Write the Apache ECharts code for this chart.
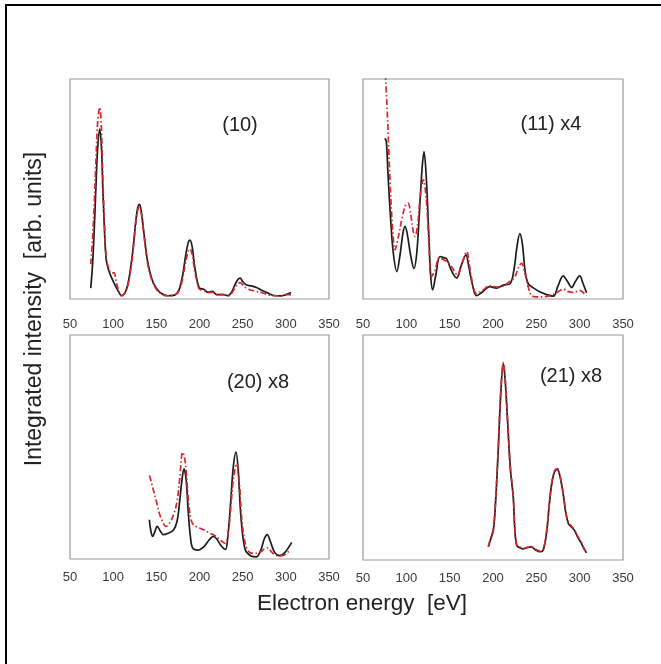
<!DOCTYPE html>
<html>
<head>
<meta charset="utf-8">
<script src="https://cdn.jsdelivr.net/npm/echarts@6/dist/echarts.min.js"></script>
<style>
html,body{margin:0;padding:0;background:#fff;}
#chart{width:661px;height:664px;}
</style>
</head>
<body>
<div id="chart"></div>
<script>
// ---- Data (energy in eV, intensity in arbitrary units, panel-normalised) ----
var xTicks = [50, 100, 150, 200, 250, 300, 350];
var panelLabels = ['(10)', '(11) x4', '(20) x8', '(21) x8'];

var p10BlackX = [74,76,78,80,82,84.5,86.5,88,90,92,95,99,104,110,115,119,123,126,128.5,130.5,133,136,140,145,150,156,163,171,176,180,184,187,189,191.5,194,197,200,205,210,215,220,228,233,237,241,244.5,247,250,254,260,266,272,279,286,294,300,306];
var p10BlackY = [4,14,30,50,68,77,68,50,30,17,12,8,4,0.5,3,10,22,34,41,42.5,38,28,16,8,4,1.5,0.5,0.8,3,9,19,25,26,23,15,8,4,3.5,2,2.5,1,1,0.5,2,5.5,8,8.6,7,5.5,5,4.3,3,1.8,0.6,0.4,1,2];
var p10RedX = [74,76,78,80,82,84.5,86.5,88,90,92,95,98,101,104,110,115,119,123,126,128.5,130.5,133,136,140,145,150,156,163,171,176,180,184,187,189,191.5,194,197,200,205,210,215,220,228,233,237,241,244.5,247,250,254,260,266,272,279,286,294,300,306];
var p10RedY = [15,26,42,62,80,87,76,55,33,18,13,11,11,6,0.5,3,9,21,33,40,41.5,37,27,15,7.5,3.5,1.2,0.5,0.8,2.5,7.5,16,21,22,19.5,13,7,3.5,3,2,2,1,1,0.5,1.5,4,6,6.5,5.5,4,3,2.5,2,1,0.5,0.5,1,1];

var p11BlackX = [75.4,77,79,82,85,89,93,96,98.5,101,105,108.8,112,115,118,120.4,123,126,128,130.4,134,138.8,143,146.5,152,158,163,168.8,172,176,181,187,196.5,204,212,219.6,224,228,231,234,237,240.7,247,254,262,269.6,275,281,286,290.8,295,300,304,308];
var p11BlackY = [72.8,71,55,35,20,11.6,20,29,32.3,29,19,13,20,38,58,66.7,55,28,10,3.2,10,18.5,18,17.4,12,8.6,14,19.3,14,6,0.5,2,4.7,4,5.4,6,12,24,29,24,12,6,4,2.3,1,0.3,5,9.6,7,4.3,7,9.6,6,1.8];
var p11RedX = [75,78,81,84,87,91,95,99,102,105,108,110,113,116,119.6,123,126,129,133,138,143,150,155,159,164,169.6,173,177,181,188,196,205,212,219,225,230,233,236,238,241,244.6,250,258,265,272,278,281,286,292,297,300,304,308];
var p11RedY = [108,85,55,32,21.6,28,36,42,43,38,30,27.7,33,46,53.7,45,25,9.3,12,18,17,15,12,10,15,20.8,14,5,1.5,3,5,4.5,5,7,9,14,15.4,12,9,4,0.5,0,0,0.5,1.5,3,3.6,2.5,2,2.5,3,2,0.5];

var p20BlackX = [141.9,143.5,145.7,148,151,154,158,163,169.7,174,177,179.5,182,184.5,187,189.5,192,198,205,210,216,220,225,230,233,236,239,242.3,245,248,252.7,259,266,271,275,278.5,282,287,293,299,306.8];
var p20BlackY = [16.7,12,9.2,11,13.7,12,10,10.5,12,16,25,34,39.7,35,20,9,4,3,4.5,7,9.2,8,5,3.3,10,24,40,47.2,38,18,3.5,0.5,0,3,8,10,7,2,0.5,2,6.5];
var p20RedX = [142,146,150,154,157,161,165,170,174,177,180.5,182.5,184.5,187,190,193,200,206,210,218,224,230,233,236,239,243,246,249,253,258,264,270,275,279,284,290,296,302,306];
var p20RedY = [36.7,31,25,19,16,13.7,15,19,25,35,47.2,45,39,26,17,14.4,13,12,11,9.5,7.5,6,10,21,34,42,34,17,6,2,1.5,2,3.5,4,2,0.5,0.5,2,3];

var p21BlackX = [194.6,197,200.4,203,206,209,211.9,214,217,220,223.4,225,227.3,231,235,239,244,249,254,258,262,265,267.7,271,274.2,277,281,284,287,290,294,298,302,305,308];
var p21BlackY = [4.9,8,12.3,25,48,74,87.1,80,60,40,27,14,5.6,4.5,4,4.5,4.9,3.5,2.7,3.5,12,24,33,38.5,39.7,37,28.6,20,15.3,14,12.3,9,6.5,4,2.2];
var p21RedX = [194.6,197,200.4,203,206,209,211.9,214,217,220,223.4,225,227.3,231,235,239,244,249,254,258,262,265,267.7,271,274.2,277,281,284,287,290,294,298,302,305,308];
var p21RedY = [5.2,8.5,13,26,49,75,87.6,80.5,61,41,27.5,14.5,6,4.8,4.2,4.7,5,3.8,3,3.8,12.5,24.5,33.5,39,40,37.5,29,20.5,16,14.5,12.5,9.5,7,4.3,2.5];

function zip(xs, ys) { return xs.map(function (x, i) { return [x, ys[i]]; }); }

var gridsPx = [
  {left: 70, top: 79, width: 259, height: 220},
  {left: 363, top: 79, width: 260, height: 220},
  {left: 70, top: 335, width: 259, height: 224},
  {left: 363, top: 335, width: 260, height: 225}
];

var FONT = '"Liberation Sans", Arial, Helvetica, sans-serif';

var grids = gridsPx.map(function (g) {
  return {left: g.left, top: g.top, width: g.width, height: g.height, show: true,
    borderColor: '#9a9a9a', borderWidth: 1.2, backgroundColor: 'transparent', containLabel: false};
});
var xAxes = gridsPx.map(function (g, i) {
  return {type: 'value', gridIndex: i, min: xTicks[0], max: xTicks[xTicks.length - 1], interval: 50,
    axisLine: {show: false}, axisTick: {show: false}, splitLine: {show: false},
    axisLabel: {fontFamily: FONT, fontSize: 13, color: '#3a3a3a', margin: i < 2 ? 19 : 12,
      showMinLabel: true, showMaxLabel: true}};
});
var yAxes = gridsPx.map(function (g, i) {
  return {type: 'value', gridIndex: i, min: -1, max: 100, show: false,
    axisLine: {show: false}, axisTick: {show: false}, splitLine: {show: false}, axisLabel: {show: false}};
});

var blackStyle = {color: '#1c1c1c', width: 1.7, type: 'solid'};
var redStyle = {color: '#d8262b', width: 1.7, type: [6, 2.5, 1.5, 2.5]};

var sets = [
  [p10BlackX, p10BlackY, p10RedX, p10RedY],
  [p11BlackX, p11BlackY, p11RedX, p11RedY],
  [p20BlackX, p20BlackY, p20RedX, p20RedY],
  [p21BlackX, p21BlackY, p21RedX, p21RedY]
];
var series = [];
sets.forEach(function (s, i) {
  series.push({type: 'line', xAxisIndex: i, yAxisIndex: i, data: zip(s[0], s[1]), showSymbol: false,
    smooth: 0.35, lineStyle: blackStyle, clip: true, silent: true, z: 2});
  series.push({type: 'line', xAxisIndex: i, yAxisIndex: i, data: zip(s[2], s[3]), showSymbol: false,
    smooth: 0.35, lineStyle: redStyle, clip: true, silent: true, z: 3});
});

var labelPos = [[240, 125], [551, 124], [258, 382], [571, 376]];
var graphics = [
  {type: 'polyline', shape: {points: [[6, 664], [6, 5], [661, 5]]}, style: {stroke: '#000', lineWidth: 2, fill: null}},
  {type: 'text', x: 362, y: 604, style: {text: 'Electron energy  [eV]', fontFamily: FONT, fontSize: 22.5, fill: '#222', textAlign: 'center', textVerticalAlign: 'middle'}},
  {type: 'text', x: 35, y: 309, rotation: Math.PI / 2, style: {text: 'Integrated intensity  [arb. units]', fontFamily: FONT, fontSize: 23, fill: '#222', textAlign: 'center', textVerticalAlign: 'middle'}}
];
panelLabels.forEach(function (t, i) {
  graphics.push({type: 'text', x: labelPos[i][0], y: labelPos[i][1],
    style: {text: t, fontFamily: FONT, fontSize: 20, fill: '#222', textAlign: 'center', textVerticalAlign: 'middle'}});
});

var chart = echarts.init(document.getElementById('chart'), null, {renderer: 'canvas'});
chart.setOption({
  animation: false,
  backgroundColor: '#fff',
  grid: grids,
  xAxis: xAxes,
  yAxis: yAxes,
  series: series,
  graphic: graphics
});
</script>
</body>
</html>
